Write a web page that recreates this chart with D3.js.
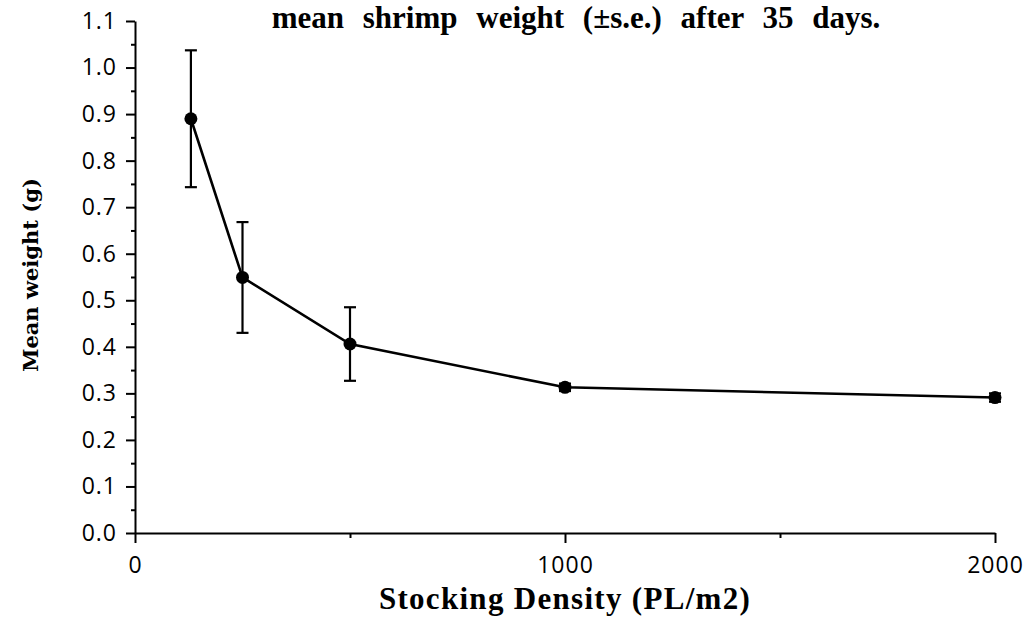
<!DOCTYPE html>
<html>
<head>
<meta charset="utf-8">
<script src="https://cdn.jsdelivr.net/npm/d3@7"></script>
<style>
  body { margin: 0; background: #fff; }
  svg { display: block; }
</style>
</head>
<body>
<div id="chart"></div>
<script>
// stocking density (PL/m2), mean weight (g), standard error
var density = [130, 250, 500, 1000, 2000];
var meanWeight = [0.89, 0.549, 0.406, 0.313, 0.291];
var stdErr = [0.147, 0.119, 0.079, 0.008, 0.009];

var yTicks = [0.0, 0.1, 0.2, 0.3, 0.4, 0.5, 0.6, 0.7, 0.8, 0.9, 1.0, 1.1];
var xTicks = [0, 1000, 2000];
var xMinor = [500, 1500];

var width = 1028;
var height = 631;

var margin = {
    top: 21,
    bottom: 98,
    left: 135,
    right: 33
};

var svg = d3.select("#chart")
    .append("svg")
    .attr("width", width)
    .attr("height", height);

var x = d3.scaleLinear()
    .domain([0, 2000])
    .range([margin.left, width - margin.right]);

var y = d3.scaleLinear()
    .domain([0, 1.1])
    .range([height - margin.bottom, margin.top]);

var tickFont = "'Open Sans', 'DejaVu Sans', sans-serif";
var serif = "'Liberation Serif', 'Times New Roman', serif";

// y axis, major + minor ticks
var yMinor = yTicks.slice(0, -1).map(function(d) { return d + 0.05; });

svg.append("g")
    .attr("transform", "translate(" + margin.left + ",0)")
    .call(d3.axisLeft(y).tickValues(yMinor).tickSize(4).tickSizeOuter(0).tickFormat(""))
    .call(function(g) { g.select(".domain").remove(); });

svg.append("g")
    .attr("transform", "translate(" + margin.left + ",0)")
    .call(d3.axisLeft(y)
        .tickValues(yTicks)
        .tickFormat(d3.format(".1f"))
        .tickSize(9)
        .tickPadding(9)
        .tickSizeOuter(0));

// x axis
svg.append("g")
    .attr("transform", "translate(0," + y(0) + ")")
    .call(d3.axisBottom(x).tickValues(xMinor).tickSize(5).tickSizeOuter(0).tickFormat(""))
    .call(function(g) { g.select(".domain").remove(); });

svg.append("g")
    .attr("transform", "translate(0," + y(0) + ")")
    .call(d3.axisBottom(x)
        .tickValues(xTicks)
        .tickFormat(d3.format("d"))
        .tickSize(10)
        .tickPadding(14)
        .tickSizeOuter(0));

svg.selectAll(".tick line, .domain")
    .attr("stroke", "#000")
    .attr("stroke-width", 2);

svg.selectAll(".tick text")
    .attr("fill", "#000")
    .style("font-family", tickFont)
    .style("font-size", "23px")
    .style("letter-spacing", "1px");

// series line
var line = d3.line()
    .x(function(d, i) { return x(density[i]); })
    .y(function(d) { return y(d); });

svg.append("path")
    .datum(meanWeight)
    .attr("d", line)
    .attr("fill", "none")
    .attr("stroke", "#000")
    .attr("stroke-width", 2.6);

// error bars
var bars = svg.append("g").attr("class", "errorbars");
var cap = 6;

meanWeight.forEach(function(m, i) {
    var cx = x(density[i]);
    var top = y(m + stdErr[i]);
    var bot = y(m - stdErr[i]);
    bars.append("line")
        .attr("x1", cx).attr("x2", cx)
        .attr("y1", top).attr("y2", bot)
        .attr("stroke", "#000").attr("stroke-width", 2.2);
    [top, bot].forEach(function(yy) {
        bars.append("line")
            .attr("x1", cx - cap).attr("x2", cx + cap)
            .attr("y1", yy).attr("y2", yy)
            .attr("stroke", "#000").attr("stroke-width", 2.2);
    });
});

// markers
svg.append("g")
    .selectAll("circle")
    .data(meanWeight)
    .enter()
    .append("circle")
    .attr("cx", function(d, i) { return x(density[i]); })
    .attr("cy", function(d) { return y(d); })
    .attr("r", 6.5)
    .attr("fill", "#000");

// titles
svg.append("text")
    .attr("x", 576)
    .attr("y", 28)
    .attr("text-anchor", "middle")
    .style("font-family", serif)
    .style("font-weight", "bold")
    .style("font-size", "31px")
    .style("word-spacing", "11px")
    .text("mean shrimp weight (\u00b1s.e.) after 35 days.");

svg.append("text")
    .attr("x", 565)
    .attr("y", 609)
    .attr("text-anchor", "middle")
    .style("font-family", serif)
    .style("font-weight", "bold")
    .style("font-size", "31px")
    .style("letter-spacing", "1.3px")
    .text("Stocking Density (PL/m2)");

svg.append("text")
    .attr("transform", "translate(38,275) rotate(-90)")
    .attr("text-anchor", "middle")
    .style("font-family", "'DejaVu Serif', serif")
    .style("font-weight", "bold")
    .style("font-size", "21px")
    .text("Mean weight (g)");
</script>
</body>
</html>
